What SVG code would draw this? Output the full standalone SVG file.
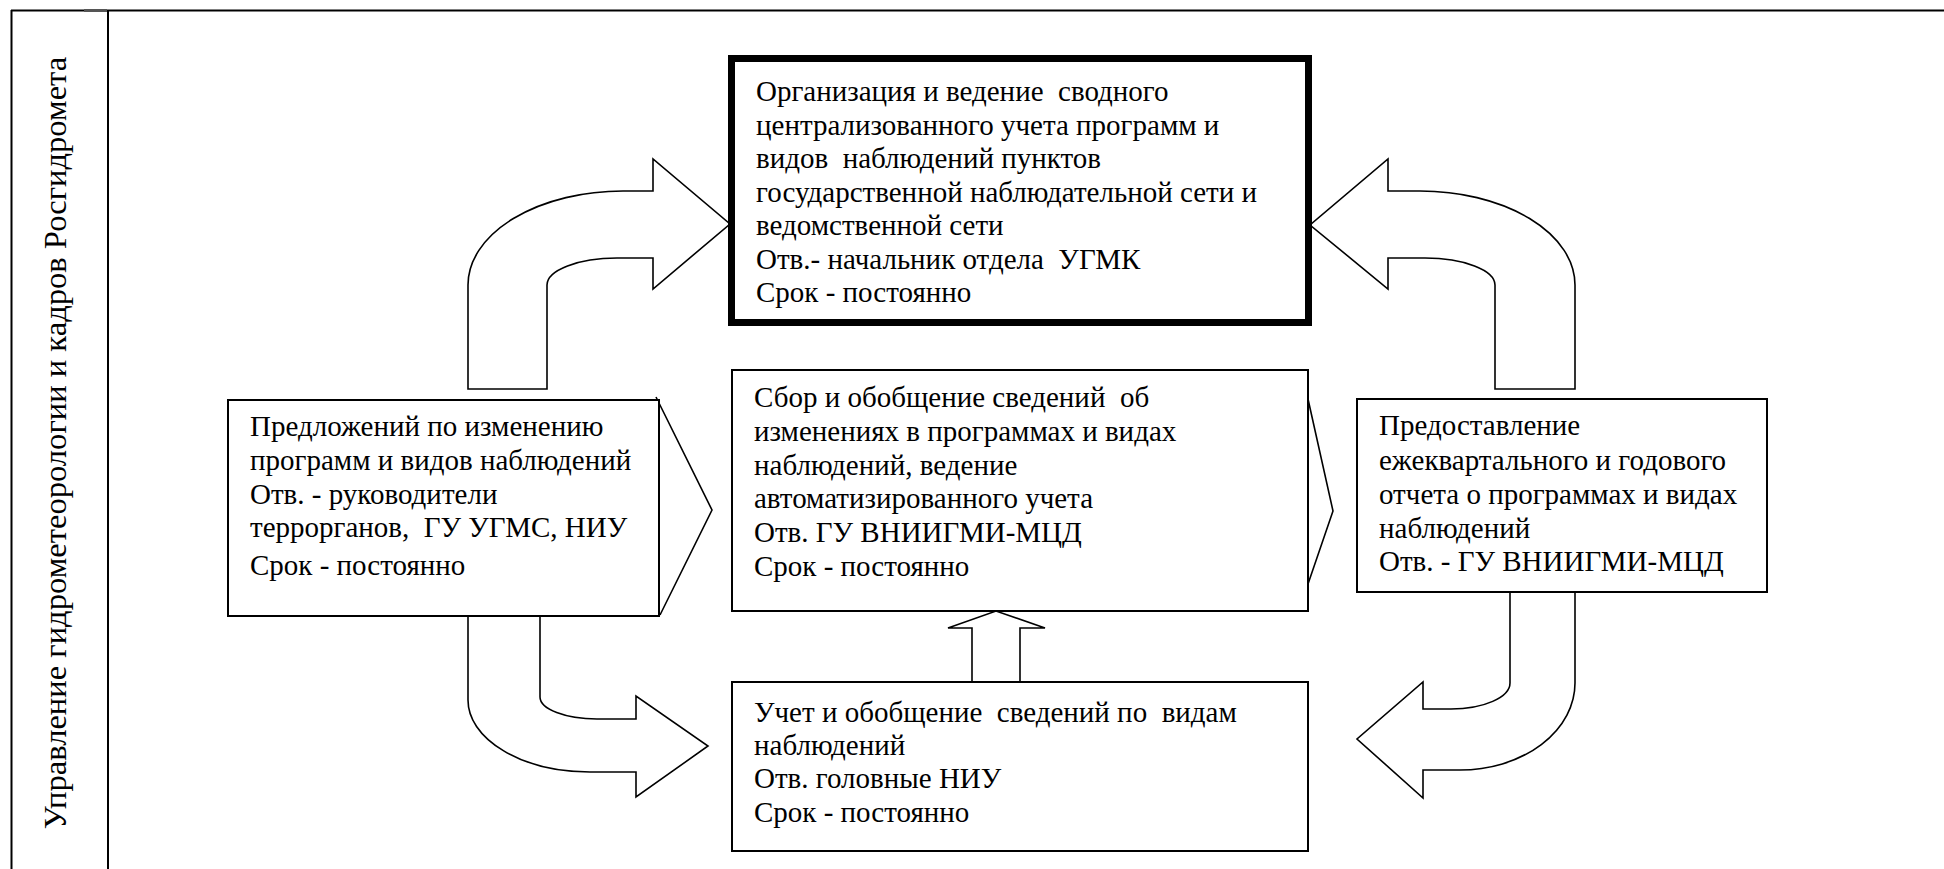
<svg xmlns="http://www.w3.org/2000/svg" width="1944" height="869" viewBox="0 0 1944 869">
<style>
.t{font-family:"Liberation Serif","Times New Roman",serif;font-size:29px;fill:#000;white-space:pre}
.box{fill:#fff;stroke:#000;stroke-width:2}
.arr{fill:#fff;stroke:#000;stroke-width:1.6;stroke-linejoin:miter}
.ln{fill:none;stroke:#000;stroke-width:1.6}
.frame{fill:none;stroke:#000;stroke-width:2}
</style>
<rect x="0" y="0" width="1944" height="869" fill="#fff"/>
<g id="frame">
<line class="frame" x1="11" y1="10.5" x2="1944" y2="10.5"/>
<line class="frame" x1="11.5" y1="10" x2="11.5" y2="869"/>
<line class="frame" x1="108" y1="10" x2="108" y2="869"/>
<line x1="84" y1="10.5" x2="107" y2="10.5" stroke="#555" stroke-width="3"/>
<text class="t" font-family="Liberation Serif, serif" xml:space="preserve" transform="translate(66,443) rotate(-90)" text-anchor="middle" style="font-size:32.6px">Управление гидрометеорологии и кадров Росгидромета</text>
</g>
<g id="connectors">
<path class="arr" d="M468,389 L468,285 A155,94 0 0 1 623,191 L653,191 L653,159 L730,224 L653,289 L653,258 L617,258 A70,27 0 0 0 547,285 L547,389 Z"/>
<path class="arr" d="M1575,389 L1575,285 A155,94 0 0 0 1420,191 L1388,191 L1388,159 L1310,225 L1388,289 L1388,258 L1425,258 A70,27 0 0 1 1495,285 L1495,389 Z"/>
<path class="arr" d="M540,616 L540,697 A57,22 0 0 0 597,719 L636,719 L636,696 L708,746 L636,797 L636,772 L590,772 A122,72 0 0 1 468,700 L468,616 Z"/>
<path class="arr" d="M1575,592 L1575,683 A115,87 0 0 1 1460,770 L1423,770 L1423,798 L1357,739 L1423,682 L1423,709 L1451,709 A59,26 0 0 0 1510,683 L1510,592 Z"/>
<path class="arr" d="M972,682 L972,628 L948,628 L996,611 L1045,628 L1020,628 L1020,682 Z"/>
<polyline class="ln" points="656,397 712,510 660,615"/>
<polyline class="ln" points="1308,399 1333,511 1308,584"/>
</g>
<g id="node-top">
<rect x="731.5" y="58.5" width="577" height="264" fill="#fff" stroke="#000" stroke-width="7"/>
<text class="t" font-family="Liberation Serif, serif" xml:space="preserve"><tspan x="756" y="101">Организация и ведение  сводного</tspan><tspan x="756" y="134.5">централизованного учета программ и</tspan><tspan x="756" y="168">видов  наблюдений пунктов</tspan><tspan x="756" y="201.5">государственной наблюдательной сети и</tspan><tspan x="756" y="235">ведомственной сети</tspan><tspan x="756" y="268.5">Отв.- начальник отдела  УГМК</tspan><tspan x="756" y="302">Срок - постоянно</tspan></text>
</g>
<g id="node-left">
<rect class="box" x="228" y="400" width="431" height="216"/>
<text class="t" font-family="Liberation Serif, serif" xml:space="preserve"><tspan x="250" y="436">Предложений по изменению</tspan><tspan x="250" y="470">программ и видов наблюдений</tspan><tspan x="250" y="504">Отв. - руководители</tspan><tspan x="250" y="537">террорганов,  ГУ УГМС, НИУ</tspan><tspan x="250" y="575">Срок - постоянно</tspan></text>
</g>
<g id="node-middle">
<rect class="box" x="732" y="370" width="576" height="241"/>
<text class="t" font-family="Liberation Serif, serif" xml:space="preserve"><tspan x="754" y="407">Сбор и обобщение сведений  об</tspan><tspan x="754" y="441">изменениях в программах и видах</tspan><tspan x="754" y="475">наблюдений, ведение</tspan><tspan x="754" y="508">автоматизированного учета</tspan><tspan x="754" y="542">Отв. ГУ ВНИИГМИ-МЦД</tspan><tspan x="754" y="576">Срок - постоянно</tspan></text>
</g>
<g id="node-right">
<rect class="box" x="1357" y="399" width="410" height="193"/>
<text class="t" font-family="Liberation Serif, serif" xml:space="preserve"><tspan x="1379" y="435">Предоставление</tspan><tspan x="1379" y="469.5">ежеквартального и годового</tspan><tspan x="1379" y="503.5">отчета о программах и видах</tspan><tspan x="1379" y="537.5">наблюдений</tspan><tspan x="1379" y="571">Отв. - ГУ ВНИИГМИ-МЦД</tspan></text>
</g>
<g id="node-bottom">
<rect class="box" x="732" y="682" width="576" height="169"/>
<text class="t" font-family="Liberation Serif, serif" xml:space="preserve"><tspan x="754" y="722">Учет и обобщение  сведений по  видам</tspan><tspan x="754" y="755">наблюдений</tspan><tspan x="754" y="788">Отв. головные НИУ</tspan><tspan x="754" y="822">Срок - постоянно</tspan></text>
</g>
</svg>
